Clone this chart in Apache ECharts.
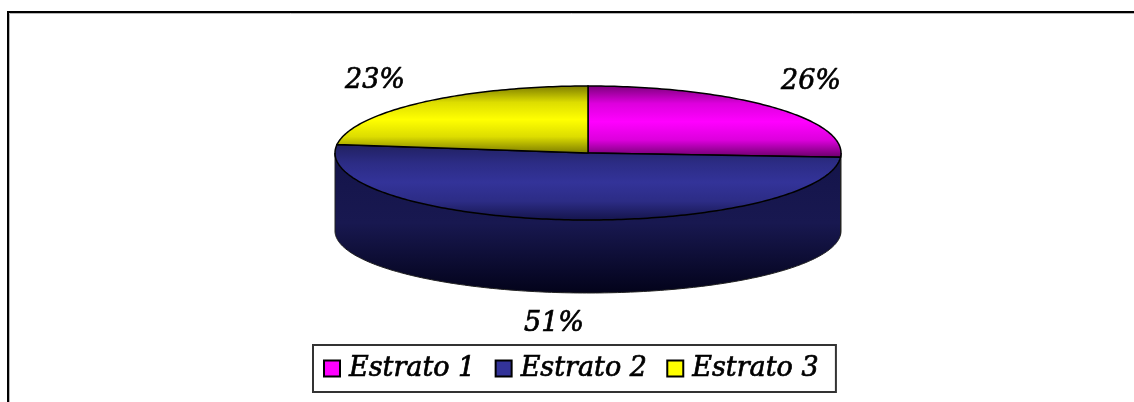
<!DOCTYPE html>
<html>
<head>
<meta charset="utf-8">
<style>html,body{margin:0;padding:0;background:#fff}#chart{width:1134px;height:402px}</style>
<script src="https://cdn.jsdelivr.net/npm/echarts@6/dist/echarts.min.js"></script>
</head>
<body>
<div id="chart"></div>
<script>
// Share of each stratum, in percent
const categories = ['Estrato 1', 'Estrato 2', 'Estrato 3'];
const shares = [26, 51, 23];
const faceColors = [
  ['#7a007a', '#dd00dd', '#ff00ff', '#dd00dd', '#660066'],
  ['#20205f', '#2c2c85', '#333399', '#2c2c85', '#14144a'],
  ['#7a7a00', '#dddd00', '#ffff00', '#dddd00', '#7a7a00']
];
const sideColors = [
  ['#4d004d', '#4d004d', '#1a001a'],
  ['#14144a', '#181850', '#03031a'],
  ['#4d4d00', '#4d4d00', '#1a1a00']
];
const swatchColors = ['#ff00ff', '#333399', '#ffff00'];
const labelAnchors = [[811, 82], [554, 324], [375, 81]];

// Tilted-disc geometry: top rim ellipse and the flatter base ellipse below it
const disc = { cx: 588, cy: 153, rx: 253, ry: 67, baseCy: 231, baseRy: 62 };
const total = shares.reduce((a, b) => a + b, 0);
const rimPoint = (deg, cy, ry) => {
  const r = deg * Math.PI / 180;
  return [disc.cx + disc.rx * Math.sin(r), cy - ry * Math.cos(r)];
};
const arc = (from, to, cy, ry) => {
  const pts = [];
  const steps = Math.max(2, Math.ceil(Math.abs(to - from)));
  for (let i = 0; i <= steps; i++) pts.push(rimPoint(from + (to - from) * i / steps, cy, ry));
  return pts;
};
const gradient = stops => ({
  type: 'linear', x: 0, y: 0, x2: 0, y2: 1,
  colorStops: stops.map((color, i) => ({ offset: i / (stops.length - 1), color }))
});
const serif = '"DejaVu Serif", serif';

const startOf = idx => shares.slice(0, idx).reduce((a, b) => a + b, 0) / total * 360;

// One custom series per stratum: rim wall, top face and percent label
const series = categories.map((name, idx) => ({
  type: 'custom',
  name,
  coordinateSystem: 'none',
  itemStyle: { color: swatchColors[idx], borderColor: '#000', borderWidth: 1.5 },
  z: 2,
  data: [shares[idx]],
  renderItem: (params, api) => {
    const start = startOf(idx);
    const end = start + api.value(0) / total * 360;
    const children = [];
    const wallFrom = Math.max(start, 90), wallTo = Math.min(end, 270);
    if (wallTo > wallFrom) {
      children.push({
        type: 'polygon',
        z2: 1,
        shape: {
          points: arc(wallFrom, wallTo, disc.cy, disc.ry)
            .concat(arc(wallTo, wallFrom, disc.baseCy, disc.baseRy))
        },
        style: { fill: gradient(sideColors[idx]), stroke: '#222', lineWidth: 1 }
      });
    }
    children.push({
      type: 'polygon',
      z2: 2,
      shape: { points: [[disc.cx, disc.cy]].concat(arc(start, end, disc.cy, disc.ry)) },
      style: { fill: gradient(faceColors[idx]), stroke: '#000', lineWidth: 1.5 }
    });
    children.push({
      type: 'text',
      z2: 3,
      style: {
        x: labelAnchors[idx][0], y: labelAnchors[idx][1],
        text: api.value(0) + '%',
        align: 'center', verticalAlign: 'middle',
        font: 'italic 27px ' + serif, fill: '#000', stroke: '#000', lineWidth: 0.7
      }
    });
    return { type: 'group', children };
  }
}));

const chart = echarts.init(document.getElementById('chart'));
chart.setOption({
  animation: false,
  backgroundColor: '#fff',
  legend: {
    left: 313, top: 345,
    padding: [9, 17, 9, 10],
    itemWidth: 16, itemHeight: 16, itemGap: 19,
    icon: 'rect',
    borderColor: '#333', borderWidth: 2, backgroundColor: '#fff',
    textStyle: {
      fontFamily: serif, fontStyle: 'italic', fontSize: 27, color: '#000',
      lineHeight: 29, padding: [0, 0, 0, 4],
      textBorderColor: '#000', textBorderWidth: 0.7
    },
    data: categories
  },
  graphic: [
    {
      type: 'polyline',
      silent: true,
      shape: { points: [[9.5, 402], [9.5, 13.5], [1134, 13.5]] },
      style: { stroke: '#b5b5b5', lineWidth: 1, fill: null }
    },
    {
      type: 'polyline',
      silent: true,
      shape: { points: [[8, 402], [8, 12], [1134, 12]] },
      style: { stroke: '#000', lineWidth: 2, fill: null }
    }
  ],
  series
});
</script>
</body>
</html>
